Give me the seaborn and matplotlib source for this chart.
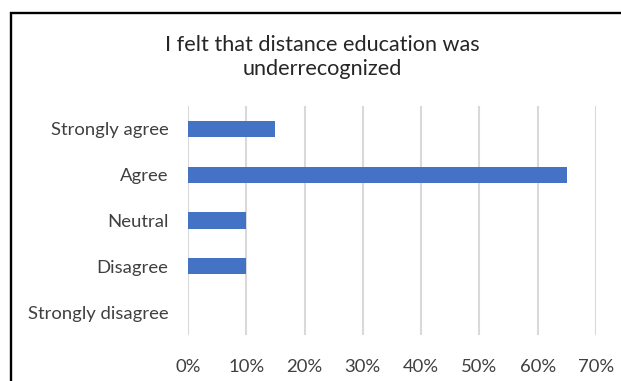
import matplotlib
matplotlib.use("Agg")
import matplotlib.pyplot as plt
import seaborn as sns
import pandas as pd
from matplotlib.patches import Rectangle

categories = ["Strongly agree", "Agree", "Neutral", "Disagree", "Strongly disagree"]
values = [15, 65, 10, 10, 0]
tick_vals = [0, 10, 20, 30, 40, 50, 60, 70]
tick_labels = ["0%", "10%", "20%", "30%", "40%", "50%", "60%", "70%"]
title = "I felt that distance education was\nunderrecognized"

sns.set_theme(style="white")
plt.rcParams["font.family"] = ["Lato", "DejaVu Sans"]

df = pd.DataFrame({"cat": categories, "val": values})

W, H = 621, 381
fig = plt.figure(figsize=(W / 100, H / 100), dpi=100)
ax = fig.add_axes([188 / W, 1 - 335 / H, (596 - 188) / W, (335 - 106) / H])

ax.xaxis.grid(True, color="#d9d9d9", linewidth=1.5)
ax.set_axisbelow(True)
sns.barplot(data=df, x="val", y="cat", order=categories, color="#4472C4",
            width=0.35, ax=ax, saturation=1, linewidth=0)

ax.set_xlim(0, 70)
ax.set_xticks(tick_vals)
ax.set_xticklabels(tick_labels)
ax.set_xlabel("")
ax.set_ylabel("")
for s in ax.spines.values():
    s.set_visible(False)
ax.tick_params(axis="both", length=0, labelsize=13.3, colors="#404040")
ax.tick_params(axis="x", pad=17)
ax.tick_params(axis="y", pad=14)

fig.text(322 / W, 1 - 57 / H, title, ha="center", va="center",
         fontsize=15.6, color="#262626", linespacing=1.25)

fig.patches.append(Rectangle((11 / W, -0.1), 1.2, 1 - 12.5 / H + 0.1,
                             transform=fig.transFigure, fill=False,
                             edgecolor="black", linewidth=1.7))

fig.savefig("out.png", dpi=100, facecolor="white")
